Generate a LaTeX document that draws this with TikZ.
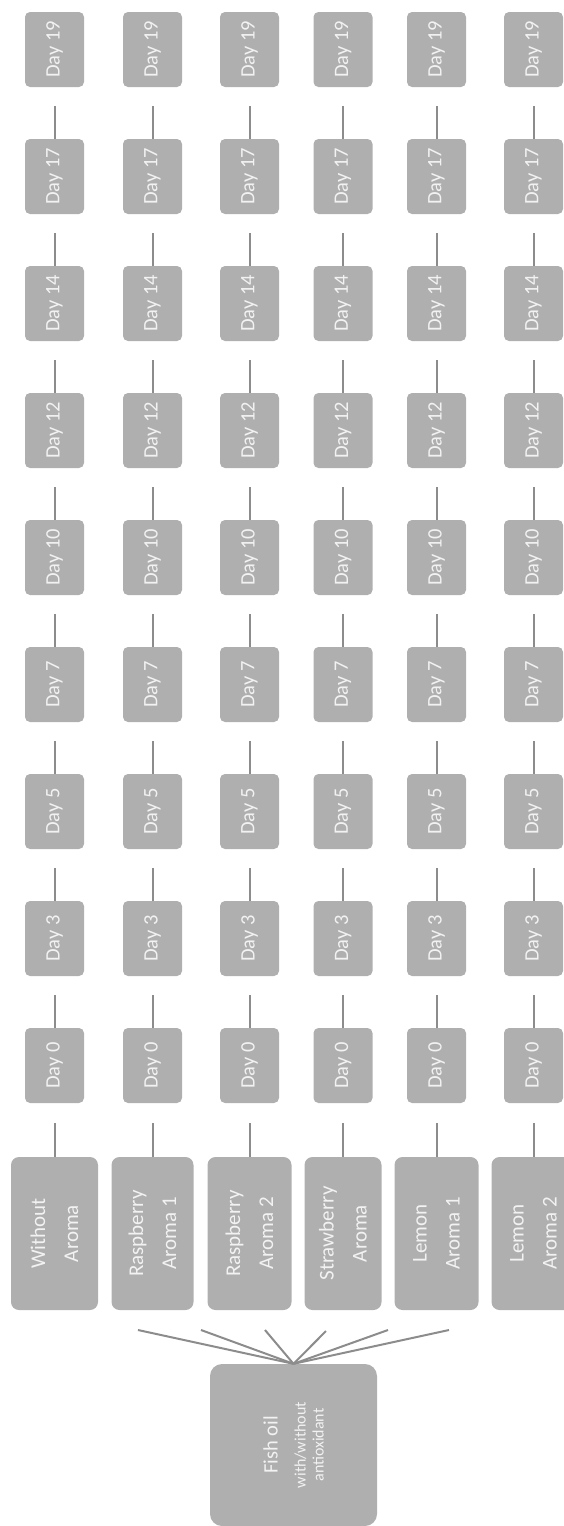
\documentclass[tikz,border=0pt]{standalone}
\usepackage{fontspec}
\setmainfont{Carlito}

\definecolor{boxgray}{RGB}{175,175,175}
\definecolor{linkgray}{RGB}{140,140,140}
\definecolor{labelwhite}{RGB}{242,242,242}

\begin{document}
\begin{tikzpicture}[x=1pt, y=-1pt,
	every node/.style={fill=boxgray, text=labelwhite, rotate=90, inner sep=0pt, align=center},
	daybox/.style={minimum width=75pt, minimum height=59pt, rounded corners=5pt, font=\fontsize{20.5}{24}\selectfont},
	aromabox/.style={minimum width=153pt, minimum height=#1, rounded corners=8pt, font=\fontsize{21}{33}\selectfont},
	aromabox/.default=84pt,
	oilbox/.style={minimum width=162pt, minimum height=167pt, rounded corners=12pt, font=\fontsize{20.5}{18}\selectfont},
	link/.style={draw=linkgray, line width=2pt}]
	\useasboundingbox (0,0) rectangle (564,1526);
	% sampling days, one column per sample
	\foreach \c/\x in {1/54.5,2/152.5,3/249.5,4/343,5/436.5,6/533.5}{
		\foreach \d [count=\r from 0] in {0,3,5,7,10,12,14,17,19}{
			\node[daybox] (d\c-\r) at (\x,{1065.5-127*\r}) {Day \d};
		}
	}
	% samples
	\node[aromabox=87pt] (a1) at (54.5,1233.5) {Without\\Aroma};
	\node[aromabox=82pt] (a2) at (152.5,1233.5) {Raspberry\\Aroma 1};
	\node[aromabox] (a3) at (249.5,1233.5) {Raspberry\\Aroma 2};
	\node[aromabox=77pt] (a4) at (343,1233.5) {Strawberry\\Aroma};
	\node[aromabox] (a5) at (436.5,1233.5) {Lemon\\Aroma 1};
	\node[aromabox] (a6) at (533.5,1233.5) {Lemon\\Aroma 2};
	\node[oilbox] (oil) at (293.5,1445) {Fish oil\\[10pt]{\fontsize{16}{18}\selectfont with/without}\\{\fontsize{16}{18}\selectfont antioxidant}};
	% free ends of the fan
	\coordinate (f1) at (138,1330);
	\coordinate (f2) at (201,1330);
	\coordinate (f3) at (265,1330);
	\coordinate (f4) at (326,1331);
	\coordinate (f5) at (388,1330);
	\coordinate (f6) at (449,1330);
	\foreach \i in {1,...,6}
		\draw[link] (oil.east) -- (f\i);
	% stubs between the boxes
	\foreach \c in {1,...,6}{
		\draw[link] (a\c.east) -- ([yshift=-20pt]d\c-0.west);
		\foreach \r/\s in {0/1,1/2,2/3,3/4,4/5,5/6,6/7,7/8}
			\draw[link] (d\c-\r.east) -- ([yshift=-19pt]d\c-\s.west);
	}
\end{tikzpicture}
\end{document}
